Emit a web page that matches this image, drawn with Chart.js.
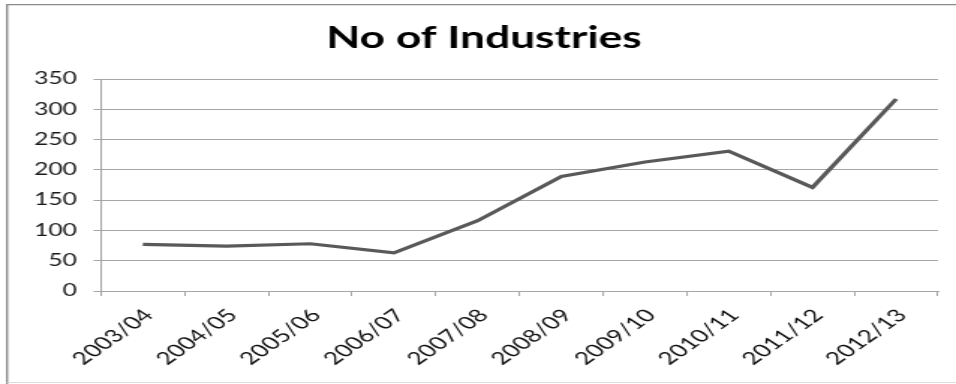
<!DOCTYPE html>
<html>
<head>
<meta charset="utf-8">
<script src="https://cdn.jsdelivr.net/npm/chart.js@4/dist/chart.umd.min.js"></script>
<style>
  html, body { margin: 0; padding: 0; background: #ffffff; overflow: hidden; }
  #wrap { width: 956px; height: 384px; position: relative; overflow: hidden; }
  /* the chart is laid out narrow and widened horizontally */
  #chart { position: absolute; left: 0; top: 0; transform-origin: 0 0; transform: scaleX(1.4984); }
</style>
</head>
<body>
<div id="wrap"><canvas id="chart" width="638" height="384"></canvas></div>
<script>
// Number of industries per financial year
const years = ["2003/04", "2004/05", "2005/06", "2006/07", "2007/08",
               "2008/09", "2009/10", "2010/11", "2011/12", "2012/13"];
const industries = [77, 74, 78, 63, 116, 189, 213, 231, 171, 317];
const yTicks = [0, 50, 100, 150, 200, 250, 300, 350];

const FONT = "Lato, 'Open Sans', sans-serif";

// thin frame round the chart
const framePlugin = {
  id: 'frame',
  beforeDraw(chart) {
    const ctx = chart.ctx;
    ctx.save();
    ctx.fillStyle = '#ffffff';
    ctx.fillRect(0, 0, chart.width, chart.height);
    ctx.strokeStyle = '#8a8a8a';
    ctx.lineWidth = 1.4;
    ctx.beginPath();
    ctx.moveTo(4.7, chart.height);
    ctx.lineTo(4.7, 4.6);
    ctx.lineTo(chart.width, 4.6);
    ctx.stroke();
    ctx.strokeStyle = '#dcdcdc';
    ctx.lineWidth = 1;
    ctx.beginPath();
    ctx.moveTo(4.7, 382.5);
    ctx.lineTo(chart.width, 382.5);
    ctx.stroke();
    ctx.restore();
  }
};

new Chart(document.getElementById('chart'), {
  type: 'line',
  data: {
    labels: years,
    datasets: [{
      label: 'No of Industries',
      data: industries,
      borderColor: '#595959',
      borderWidth: 3.2,
      pointRadius: 0,
      tension: 0,
      fill: false
    }]
  },
  options: {
    responsive: false,
    animation: false,
    devicePixelRatio: 1,
    layout: { padding: { left: 20, right: 12, top: 0, bottom: 0 } },
    plugins: {
      legend: { display: false },
      tooltip: { enabled: false },
      title: {
        display: true,
        text: 'No of Industries',
        color: '#000000',
        font: { family: FONT, size: 29.5, weight: 'bold', lineHeight: 1.2 },
        padding: { top: 20.6, bottom: 23 }
      }
    },
    scales: {
      x: {
        offset: true,
        grid: {
          display: true,
          offset: true,
          drawOnChartArea: false,
          drawTicks: true,
          tickLength: 5,
          color: '#a6a6a6'
        },
        border: { display: true, color: '#a6a6a6', width: 1 },
        ticks: {
          autoSkip: false,
          minRotation: 46,
          maxRotation: 46,
          padding: 9,
          labelOffset: 4,
          color: '#111111',
          font: { family: FONT, size: 17.5 }
        },
        afterFit(scale) { scale.height = 93; }
      },
      y: {
        min: 0,
        max: 350,
        afterBuildTicks(scale) { scale.ticks = yTicks.map(v => ({ value: v })); },
        grid: {
          color: '#a6a6a6',
          lineWidth: 1,
          drawTicks: true,
          tickLength: 5
        },
        border: { display: true, color: '#a6a6a6', width: 1 },
        ticks: {
          padding: 11,
          color: '#1a1a1a',
          font: { family: FONT, size: 16.5 }
        },
        afterFit(scale) { scale.width = 47.4; }
      }
    }
  },
  plugins: [framePlugin]
});
</script>
</body>
</html>
